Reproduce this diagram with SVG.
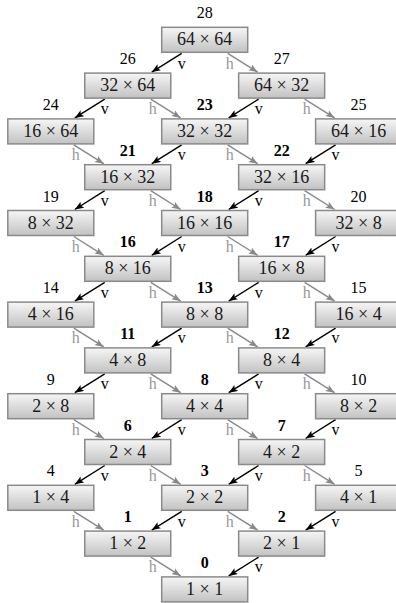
<svg xmlns="http://www.w3.org/2000/svg" width="396" height="603" viewBox="0 0 396 603">
<defs>
<linearGradient id="g" x1="0" y1="0" x2="0" y2="1">
<stop offset="0" stop-color="#f6f6f6"/>
<stop offset="1" stop-color="#c2c2c2"/>
</linearGradient>
<marker id="ab" markerUnits="userSpaceOnUse" markerWidth="10" markerHeight="8" refX="9" refY="3.5" orient="auto"><path d="M0,0 L9,3.5 L0,7 L2,3.5 z" fill="#000"/></marker>
<marker id="ag" markerUnits="userSpaceOnUse" markerWidth="10" markerHeight="8" refX="9" refY="3.5" orient="auto"><path d="M0,0 L9,3.5 L0,7 L2,3.5 z" fill="#888"/></marker>
</defs>
<style>
rect{fill:url(#g);stroke:#8a8a8a;stroke-width:1.5}
text{font-family:"Liberation Serif","DejaVu Serif",serif;text-anchor:middle}
.t{font-size:18px;fill:#1a1a1a}
.n{font-size:16px;fill:#000}
.b{font-weight:bold}
.v{stroke:#000;stroke-width:1.4;fill:none;marker-end:url(#ab)}
.h{stroke:#888;stroke-width:1.4;fill:none;marker-end:url(#ag)}
.lv{font-size:16px;fill:#000}
.lh{font-size:16px;fill:#999}
</style>
<g id="connectors">
<path class="v" d="M181.7,53.3 L151.75,72.1"/><text class="lv" x="181.7" y="68.5">v</text>
<path class="h" d="M227.7,53.3 L257.65,72.1"/><text class="lh" x="229.7" y="68.5">h</text>

<path class="v" d="M104.75,99.1 L74.8,117.9"/><text class="lv" x="104.75" y="114.3">v</text>
<path class="h" d="M150.75,99.1 L180.7,117.9"/><text class="lh" x="152.75" y="114.3">h</text>
<path class="v" d="M258.65,99.1 L228.7,117.9"/><text class="lv" x="258.65" y="114.3">v</text>
<path class="h" d="M304.65,99.1 L334.6,117.9"/><text class="lh" x="306.65" y="114.3">h</text>

<path class="h" d="M73.8,144.9 L103.75,163.7"/><text class="lh" x="75.8" y="160.1">h</text>
<path class="v" d="M181.7,144.9 L151.75,163.7"/><text class="lv" x="181.7" y="160.1">v</text>
<path class="h" d="M227.7,144.9 L257.65,163.7"/><text class="lh" x="229.7" y="160.1">h</text>
<path class="v" d="M335.6,144.9 L305.65,163.7"/><text class="lv" x="335.6" y="160.1">v</text>

<path class="v" d="M104.75,190.7 L74.8,209.5"/><text class="lv" x="104.75" y="205.9">v</text>
<path class="h" d="M150.75,190.7 L180.7,209.5"/><text class="lh" x="152.75" y="205.9">h</text>
<path class="v" d="M258.65,190.7 L228.7,209.5"/><text class="lv" x="258.65" y="205.9">v</text>
<path class="h" d="M304.65,190.7 L334.6,209.5"/><text class="lh" x="306.65" y="205.9">h</text>

<path class="h" d="M73.8,236.5 L103.75,255.3"/><text class="lh" x="75.8" y="251.7">h</text>
<path class="v" d="M181.7,236.5 L151.75,255.3"/><text class="lv" x="181.7" y="251.7">v</text>
<path class="h" d="M227.7,236.5 L257.65,255.3"/><text class="lh" x="229.7" y="251.7">h</text>
<path class="v" d="M335.6,236.5 L305.65,255.3"/><text class="lv" x="335.6" y="251.7">v</text>

<path class="v" d="M104.75,282.3 L74.8,301.1"/><text class="lv" x="104.75" y="297.5">v</text>
<path class="h" d="M150.75,282.3 L180.7,301.1"/><text class="lh" x="152.75" y="297.5">h</text>
<path class="v" d="M258.65,282.3 L228.7,301.1"/><text class="lv" x="258.65" y="297.5">v</text>
<path class="h" d="M304.65,282.3 L334.6,301.1"/><text class="lh" x="306.65" y="297.5">h</text>

<path class="h" d="M73.8,328.1 L103.75,346.9"/><text class="lh" x="75.8" y="343.3">h</text>
<path class="v" d="M181.7,328.1 L151.75,346.9"/><text class="lv" x="181.7" y="343.3">v</text>
<path class="h" d="M227.7,328.1 L257.65,346.9"/><text class="lh" x="229.7" y="343.3">h</text>
<path class="v" d="M335.6,328.1 L305.65,346.9"/><text class="lv" x="335.6" y="343.3">v</text>

<path class="v" d="M104.75,373.9 L74.8,392.7"/><text class="lv" x="104.75" y="389.1">v</text>
<path class="h" d="M150.75,373.9 L180.7,392.7"/><text class="lh" x="152.75" y="389.1">h</text>
<path class="v" d="M258.65,373.9 L228.7,392.7"/><text class="lv" x="258.65" y="389.1">v</text>
<path class="h" d="M304.65,373.9 L334.6,392.7"/><text class="lh" x="306.65" y="389.1">h</text>

<path class="h" d="M73.8,419.7 L103.75,438.5"/><text class="lh" x="75.8" y="434.9">h</text>
<path class="v" d="M181.7,419.7 L151.75,438.5"/><text class="lv" x="181.7" y="434.9">v</text>
<path class="h" d="M227.7,419.7 L257.65,438.5"/><text class="lh" x="229.7" y="434.9">h</text>
<path class="v" d="M335.6,419.7 L305.65,438.5"/><text class="lv" x="335.6" y="434.9">v</text>

<path class="v" d="M104.75,465.5 L74.8,484.3"/><text class="lv" x="104.75" y="480.7">v</text>
<path class="h" d="M150.75,465.5 L180.7,484.3"/><text class="lh" x="152.75" y="480.7">h</text>
<path class="v" d="M258.65,465.5 L228.7,484.3"/><text class="lv" x="258.65" y="480.7">v</text>
<path class="h" d="M304.65,465.5 L334.6,484.3"/><text class="lh" x="306.65" y="480.7">h</text>

<path class="h" d="M73.8,511.3 L103.75,530.1"/><text class="lh" x="75.8" y="526.5">h</text>
<path class="v" d="M181.7,511.3 L151.75,530.1"/><text class="lv" x="181.7" y="526.5">v</text>
<path class="h" d="M227.7,511.3 L257.65,530.1"/><text class="lh" x="229.7" y="526.5">h</text>
<path class="v" d="M335.6,511.3 L305.65,530.1"/><text class="lv" x="335.6" y="526.5">v</text>

<path class="h" d="M150.75,557.1 L180.7,575.9"/><text class="lh" x="152.75" y="572.3">h</text>
<path class="v" d="M258.65,557.1 L228.7,575.9"/><text class="lv" x="258.65" y="572.3">v</text>
</g>

<g id="n28"><rect x="161.7" y="27.3" width="86" height="25"/><text class="n" x="204.7" y="18.3">28</text><text class="t" x="204.7" y="45.3">64 × 64</text></g>
<g id="n26"><rect x="84.75" y="73.1" width="86" height="25"/><text class="n" x="127.75" y="64.1">26</text><text class="t" x="127.75" y="91.1">32 × 64</text></g>
<g id="n27"><rect x="238.65" y="73.1" width="86" height="25"/><text class="n" x="281.65" y="64.1">27</text><text class="t" x="281.65" y="91.1">64 × 32</text></g>
<g id="n24"><rect x="7.8" y="118.9" width="86" height="25"/><text class="n" x="50.8" y="109.9">24</text><text class="t" x="50.8" y="136.9">16 × 64</text></g>
<g id="n23"><rect x="161.7" y="118.9" width="86" height="25"/><text class="n b" x="204.7" y="109.9">23</text><text class="t" x="204.7" y="136.9">32 × 32</text></g>
<g id="n25"><rect x="315.6" y="118.9" width="86" height="25"/><text class="n" x="358.6" y="109.9">25</text><text class="t" x="358.6" y="136.9">64 × 16</text></g>
<g id="n21"><rect x="84.75" y="164.7" width="86" height="25"/><text class="n b" x="127.75" y="155.7">21</text><text class="t" x="127.75" y="182.7">16 × 32</text></g>
<g id="n22"><rect x="238.65" y="164.7" width="86" height="25"/><text class="n b" x="281.65" y="155.7">22</text><text class="t" x="281.65" y="182.7">32 × 16</text></g>
<g id="n19"><rect x="7.8" y="210.5" width="86" height="25"/><text class="n" x="50.8" y="201.5">19</text><text class="t" x="50.8" y="228.5">8 × 32</text></g>
<g id="n18"><rect x="161.7" y="210.5" width="86" height="25"/><text class="n b" x="204.7" y="201.5">18</text><text class="t" x="204.7" y="228.5">16 × 16</text></g>
<g id="n20"><rect x="315.6" y="210.5" width="86" height="25"/><text class="n" x="358.6" y="201.5">20</text><text class="t" x="358.6" y="228.5">32 × 8</text></g>
<g id="n16"><rect x="84.75" y="256.3" width="86" height="25"/><text class="n b" x="127.75" y="247.3">16</text><text class="t" x="127.75" y="274.3">8 × 16</text></g>
<g id="n17"><rect x="238.65" y="256.3" width="86" height="25"/><text class="n b" x="281.65" y="247.3">17</text><text class="t" x="281.65" y="274.3">16 × 8</text></g>
<g id="n14"><rect x="7.8" y="302.1" width="86" height="25"/><text class="n" x="50.8" y="293.1">14</text><text class="t" x="50.8" y="320.1">4 × 16</text></g>
<g id="n13"><rect x="161.7" y="302.1" width="86" height="25"/><text class="n b" x="204.7" y="293.1">13</text><text class="t" x="204.7" y="320.1">8 × 8</text></g>
<g id="n15"><rect x="315.6" y="302.1" width="86" height="25"/><text class="n" x="358.6" y="293.1">15</text><text class="t" x="358.6" y="320.1">16 × 4</text></g>
<g id="n11"><rect x="84.75" y="347.9" width="86" height="25"/><text class="n b" x="127.75" y="338.9">11</text><text class="t" x="127.75" y="365.9">4 × 8</text></g>
<g id="n12"><rect x="238.65" y="347.9" width="86" height="25"/><text class="n b" x="281.65" y="338.9">12</text><text class="t" x="281.65" y="365.9">8 × 4</text></g>
<g id="n9"><rect x="7.8" y="393.7" width="86" height="25"/><text class="n" x="50.8" y="384.7">9</text><text class="t" x="50.8" y="411.7">2 × 8</text></g>
<g id="n8"><rect x="161.7" y="393.7" width="86" height="25"/><text class="n b" x="204.7" y="384.7">8</text><text class="t" x="204.7" y="411.7">4 × 4</text></g>
<g id="n10"><rect x="315.6" y="393.7" width="86" height="25"/><text class="n" x="358.6" y="384.7">10</text><text class="t" x="358.6" y="411.7">8 × 2</text></g>
<g id="n6"><rect x="84.75" y="439.5" width="86" height="25"/><text class="n b" x="127.75" y="430.5">6</text><text class="t" x="127.75" y="457.5">2 × 4</text></g>
<g id="n7"><rect x="238.65" y="439.5" width="86" height="25"/><text class="n b" x="281.65" y="430.5">7</text><text class="t" x="281.65" y="457.5">4 × 2</text></g>
<g id="n4"><rect x="7.8" y="485.3" width="86" height="25"/><text class="n" x="50.8" y="476.3">4</text><text class="t" x="50.8" y="503.3">1 × 4</text></g>
<g id="n3"><rect x="161.7" y="485.3" width="86" height="25"/><text class="n b" x="204.7" y="476.3">3</text><text class="t" x="204.7" y="503.3">2 × 2</text></g>
<g id="n5"><rect x="315.6" y="485.3" width="86" height="25"/><text class="n" x="358.6" y="476.3">5</text><text class="t" x="358.6" y="503.3">4 × 1</text></g>
<g id="n1"><rect x="84.75" y="531.1" width="86" height="25"/><text class="n b" x="127.75" y="522.1">1</text><text class="t" x="127.75" y="549.1">1 × 2</text></g>
<g id="n2"><rect x="238.65" y="531.1" width="86" height="25"/><text class="n b" x="281.65" y="522.1">2</text><text class="t" x="281.65" y="549.1">2 × 1</text></g>
<g id="n0"><rect x="161.7" y="576.9" width="86" height="25"/><text class="n b" x="204.7" y="567.9">0</text><text class="t" x="204.7" y="594.9">1 × 1</text></g>
</svg>
